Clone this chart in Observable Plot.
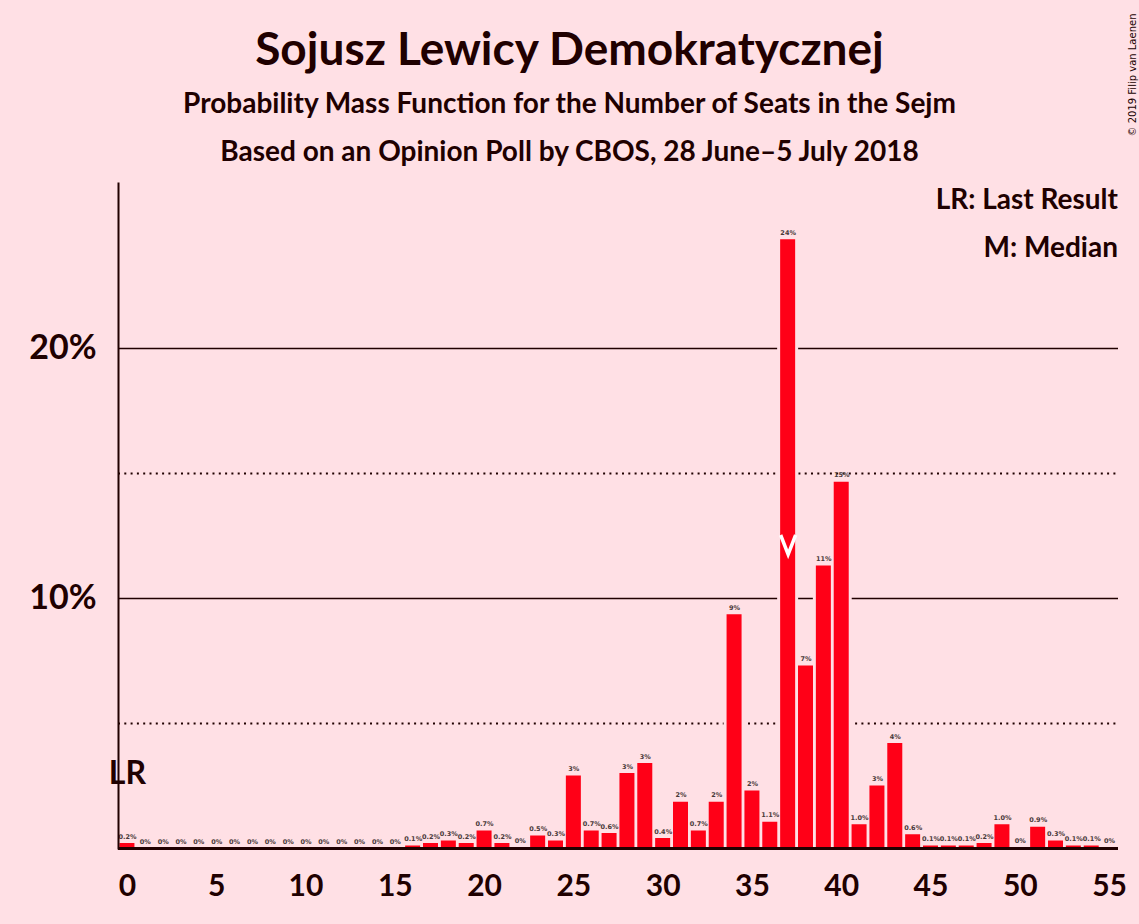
<!DOCTYPE html>
<html>
<head>
<meta charset="utf-8">
<script src="https://cdn.jsdelivr.net/npm/d3@7"></script>
<script src="https://cdn.jsdelivr.net/npm/@observablehq/plot@0.6"></script>
<style>
  html, body { margin: 0; padding: 0; background: #FFE0E5; }
  #wrap { position: relative; width: 1139px; height: 924px; background: #FFE0E5; font-family: Lato, "Noto Sans", sans-serif; color: #200000; overflow: hidden; }
  .t { position: absolute; left: 0; width: 1139px; text-align: center; font-weight: bold; white-space: nowrap; line-height: 1.2; }
  #title { top: 20px; font-size: 46px; }
  #sub1 { top: 86px; font-size: 28px; }
  #sub2 { top: 134px; font-size: 28px; }
  .leg { position: absolute; right: 21px; font-weight: bold; font-size: 28px; white-space: nowrap; line-height: 1.2; }
  #leg1 { top: 182px; }
  #leg2 { top: 230px; }
  #copy { position: absolute; left: 1132px; top: 75px; font-size: 10px; font-family: "DejaVu Sans", sans-serif; color: #200000; transform: translate(-50%, -50%) rotate(-90deg); white-space: nowrap; }
  #chart { position: absolute; left: 0; top: 175px; }
</style>
</head>
<body>
<div id="wrap">
  <div id="title" class="t">Sojusz Lewicy Demokratycznej</div>
  <div id="sub1" class="t">Probability Mass Function for the Number of Seats in the Sejm</div>
  <div id="sub2" class="t">Based on an Opinion Poll by CBOS, 28 June–5 July 2018</div>
  <div id="leg1" class="leg">LR: Last Result</div>
  <div id="leg2" class="leg">M: Median</div>
  <div id="copy">© 2019 Filip van Laenen</div>
  <div id="chart"></div>
</div>
<script>
const seats = [0,1,2,3,4,5,6,7,8,9,10,11,12,13,14,15,16,17,18,19,20,21,22,23,24,25,26,27,28,29,30,31,32,33,34,35,36,37,38,39,40,41,42,43,44,45,46,47,48,49,50,51,52,53,54,55];
const probs = [0.2,0,0,0,0,0,0,0,0,0,0,0,0,0,0,0,0.1,0.2,0.3,0.2,0.7,0.2,0.03,0.5,0.3,2.9,0.7,0.6,3.0,3.4,0.4,1.85,0.7,1.85,9.35,2.3,1.05,24.35,7.3,11.3,14.65,0.95,2.5,4.2,0.55,0.1,0.1,0.1,0.2,0.95,0.02,0.85,0.3,0.1,0.1,0.02];
const labels = ["0.2%","0%","0%","0%","0%","0%","0%","0%","0%","0%","0%","0%","0%","0%","0%","0%","0.1%","0.2%","0.3%","0.2%","0.7%","0.2%","0%","0.5%","0.3%","3%","0.7%","0.6%","3%","3%","0.4%","2%","0.7%","2%","9%","2%","1.1%","24%","7%","11%","15%","1.0%","3%","4%","0.6%","0.1%","0.1%","0.1%","0.2%","1.0%","0%","0.9%","0.3%","0.1%","0.1%","0%"];
const xTicks = [0,5,10,15,20,25,30,35,40,45,50,55];
const yTicks = [10,20];
const solidGrid = [10,20];
const dottedGrid = [5,15];
const lastResult = 0;
const lastResultLabelY = 3;
const median = 37;
const medianMarkY = 12.15;
const yMax = 26.6;

const bg = "#FFE0E5";
const red = "#FF0017";
const ink = "#200000";

const data = seats.map((s, i) => ({seat: s, p: probs[i], label: labels[i]}));

const vSymbol = {
  draw(ctx, size) {
    const r = Math.sqrt(size / Math.PI);
    ctx.moveTo(-r, -1.3 * r);
    ctx.lineTo(0, 1.3 * r);
    ctx.lineTo(r, -1.3 * r);
  }
};

const chart = Plot.plot({
  width: 1139,
  height: 749,
  marginLeft: 118,
  marginRight: 21,
  marginTop: 8,
  marginBottom: 76,
  style: {background: "transparent", fontFamily: "Lato, 'Noto Sans', sans-serif", color: ink},
  x: {type: "band", domain: seats, paddingInner: 0.16, paddingOuter: 0.08, axis: null},
  y: {domain: [0, yMax], axis: null},
  marks: [
    Plot.ruleY(solidGrid, {stroke: ink, strokeWidth: 1.6}),
    Plot.ruleY(dottedGrid, {stroke: ink, strokeWidth: 1.8, strokeDasharray: "2,4.3"}),
    Plot.barY(data, {x: "seat", y: "p", fill: bg, stroke: bg, strokeWidth: 6}),
    Plot.barY(data, {x: "seat", y: "p", fill: red}),
    Plot.text(data, {x: "seat", y: "p", text: "label", dy: -7, fontSize: 6.5, fontWeight: "bold", fill: "#4a3a3a", fontFamily: "DejaVu Sans, sans-serif"}),
    Plot.dot([median], {x: d => d, y: () => medianMarkY, symbol: vSymbol, r: 7.5, stroke: "white", strokeWidth: 3.5, fill: "none"}),
    Plot.ruleY([0], {stroke: ink, strokeWidth: 3}),
    Plot.frame({anchor: "left", stroke: ink, strokeWidth: 2}),
    Plot.text([lastResult], {x: d => d, y: () => lastResultLabelY, text: () => "LR", fontSize: 32, fontWeight: "bold", fill: ink}),
    Plot.axisX(xTicks, {label: null, tickSize: 0, tickPadding: 26, fontSize: 30, fontWeight: "bold", fill: ink}),
    Plot.axisY(yTicks, {label: null, tickSize: 0, tickPadding: 22, fontSize: 34, fontWeight: "bold", fill: ink, tickFormat: d => d + "%"})
  ]
});
document.getElementById("chart").appendChild(chart);
</script>
</body>
</html>
